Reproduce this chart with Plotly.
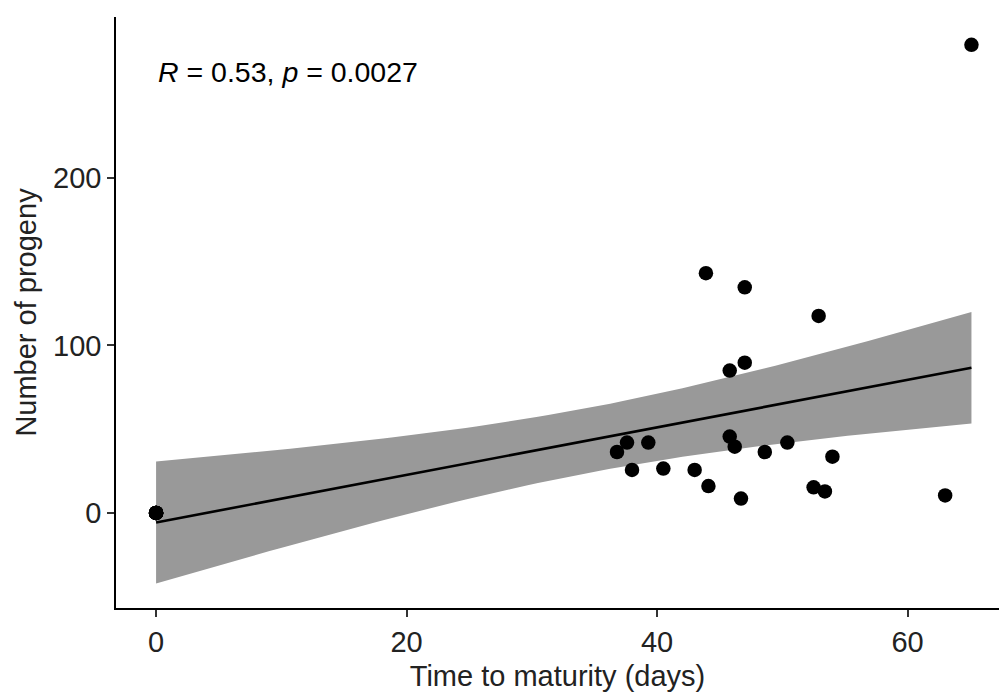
import numpy as np
import plotly.graph_objects as go

time_days = [0.0, 0.0, 0.0, 0.0, 0.0, 0.0, 0.0, 0.0,
             36.8, 37.6, 38.0, 39.3, 40.5, 43.0, 43.9, 44.1, 45.8, 45.8, 46.2,
             46.7, 47.0, 47.0, 48.6, 50.4, 52.5, 52.9, 53.4, 54.0, 63.0, 65.1]
progeny = [0.0, 0.0, 0.0, 0.0, 0.0, 0.0, 0.0, 0.0,
           36.4, 42.0, 25.7, 42.0, 26.5, 25.7, 143.1, 16.1, 85.0, 45.6, 39.6,
           8.6, 134.7, 89.7, 36.4, 42.0, 15.3, 117.6, 12.9, 33.6, 10.5, 279.4]
annotation_text = "<i>R</i> = 0.53, <i>p</i> = 0.0027"
x_ticks = [0, 20, 40, 60]
y_ticks = [0, 100, 200]
T_CRIT = 2.048  # t(0.975, df=28)

x = np.array(time_days)
y = np.array(progeny)
n = len(x)
b1, b0 = np.polyfit(x, y, 1)
resid = y - (b0 + b1 * x)
s = np.sqrt(np.sum(resid ** 2) / (n - 2))
xg = np.linspace(x.min(), x.max(), 80)
yg = b0 + b1 * xg
se = s * np.sqrt(1 / n + (xg - x.mean()) ** 2 / np.sum((x - x.mean()) ** 2))
lo = yg - T_CRIT * se
hi = yg + T_CRIT * se

fig = go.Figure()
fig.add_trace(go.Scatter(x=np.concatenate([xg, xg[::-1]]), y=np.concatenate([hi, lo[::-1]]),
                         fill="toself", fillcolor="#999999", line=dict(width=0),
                         mode="lines", hoverinfo="skip", showlegend=False))
fig.add_trace(go.Scatter(x=xg, y=yg, mode="lines", line=dict(color="black", width=2.6),
                         showlegend=False))
fig.add_trace(go.Scatter(x=time_days, y=progeny, mode="markers",
                         marker=dict(color="black", size=14.5), showlegend=False))

font_family = "Liberation Sans, Arial, sans-serif"
fig.update_layout(
    width=999, height=696,
    margin=dict(l=116, r=0, t=17, b=88),
    paper_bgcolor="white", plot_bgcolor="white",
    font=dict(family=font_family, size=29, color="#222222"),
    annotations=[dict(text=annotation_text, x=0.0, y=263, xref="x", yref="y",
                      xanchor="left", yanchor="middle", showarrow=False,
                      font=dict(size=28.5, color="black"))],
)
fig.update_xaxes(range=[-3.2, 67.3], tickvals=x_ticks, showgrid=False, zeroline=False,
                 showline=True, linecolor="black", linewidth=1.5,
                 ticks="outside", ticklen=7, tickcolor="#333333", tickwidth=1.5,
                 title=dict(text="Time to maturity (days)", standoff=9, font=dict(size=29)))
fig.update_yaxes(range=[-56.7, 296], tickvals=y_ticks, showgrid=False, zeroline=False,
                 showline=True, linecolor="black", linewidth=1.5,
                 ticks="outside", ticklen=7, tickcolor="#333333", tickwidth=1.5,
                 title=dict(text="Number of progeny", standoff=8, font=dict(size=29)))

fig.write_html("out.html")
